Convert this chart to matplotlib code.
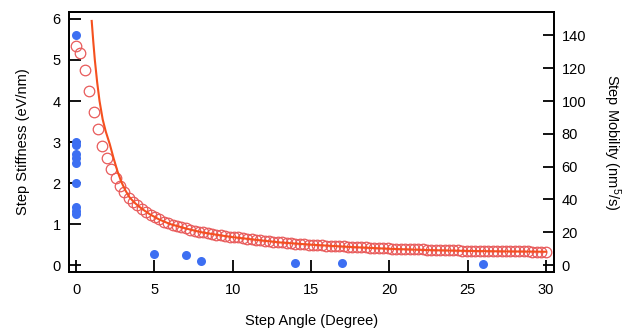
import matplotlib
matplotlib.use("Agg")
import matplotlib.pyplot as plt

plt.rcParams['font.family'] = ['Liberation Sans', 'DejaVu Sans']
plt.rcParams['mathtext.fontset'] = 'custom'
plt.rcParams['mathtext.rm'] = 'Liberation Sans'
plt.rcParams['mathtext.it'] = 'Liberation Sans'

# measured step stiffness (eV/nm)
angle_meas = [0, 0, 0, 0, 0, 0, 0, 0, 0, 0, 5, 7, 8, 14, 17, 26]
stiffness_meas = [5.62, 3.0, 2.93, 2.7, 2.6, 2.5, 2.0, 1.42, 1.33, 1.25,
                  0.28, 0.24, 0.1, 0.05, 0.04, 0.02]

# step mobility, open circles (nm^5/s)
angle_sim = [0.00, 0.28, 0.56, 0.84, 1.12, 1.40, 1.68, 1.96, 2.24, 2.52,
             2.80, 3.08, 3.36, 3.64, 3.92, 4.20, 4.48, 4.76, 5.04, 5.32,
             5.60, 5.88, 6.16, 6.44, 6.72, 7.00, 7.28, 7.56, 7.84, 8.12,
             8.40, 8.68, 8.96, 9.24, 9.52, 9.80, 10.08, 10.36, 10.64, 10.92,
             11.20, 11.48, 11.76, 12.04, 12.32, 12.60, 12.88, 13.16, 13.44, 13.72,
             14.00, 14.28, 14.56, 14.84, 15.12, 15.40, 15.68, 15.96, 16.24, 16.52,
             16.80, 17.08, 17.36, 17.64, 17.92, 18.20, 18.48, 18.76, 19.04, 19.32,
             19.60, 19.88, 20.16, 20.44, 20.72, 21.00, 21.28, 21.56, 21.84, 22.12,
             22.40, 22.68, 22.96, 23.24, 23.52, 23.80, 24.08, 24.36, 24.64, 24.92,
             25.20, 25.48, 25.76, 26.04, 26.32, 26.60, 26.88, 27.16, 27.44, 27.72,
             28.00, 28.28, 28.56, 28.84, 29.12, 29.40, 29.68, 29.96]
mobility_sim = [133.8, 129.0, 119.0, 106.3, 93.5, 82.8, 72.8, 65.0, 58.5, 53.3,
                48.3, 44.3, 40.8, 38.3, 36.3, 34.3, 32.3, 30.5, 29.0, 27.8,
                26.5, 25.5, 24.5, 23.8, 23.0, 22.3, 21.6, 21.0, 20.4, 19.9,
                19.4, 19.0, 18.5, 18.1, 17.8, 17.4, 17.0, 16.8, 16.4, 16.1,
                15.8, 15.5, 15.3, 14.8, 14.5, 14.3, 14.0, 13.8, 13.5, 13.3,
                13.1, 12.9, 12.8, 12.5, 12.4, 12.2, 12.1, 11.9, 11.8, 11.6,
                11.5, 11.4, 11.3, 11.1, 11.0, 10.9, 10.8, 10.6, 10.5, 10.4,
                10.3, 10.1, 10.0, 9.9, 9.85, 9.8, 9.7, 9.6, 9.55, 9.5,
                9.4, 9.3, 9.25, 9.2, 9.1, 9.0, 8.95, 8.9, 8.8, 8.75,
                8.7, 8.65, 8.6, 8.55, 8.5, 8.48, 8.45, 8.43, 8.4, 8.38,
                8.35, 8.33, 8.3, 8.28, 8.25, 8.23, 8.2, 8.18]

# fit line (nm^5/s)
angle_fit = [1.0, 1.1, 1.2, 1.35, 1.5, 1.7, 1.9, 2.15, 2.4, 2.65,
             2.9, 3.15, 3.4, 3.7, 4.0, 4.35, 4.7, 5.3, 6.0, 7.0,
             8.0, 9.0, 10.0, 11.0, 12.0, 13.0, 14.0, 15.0, 17.5, 20.0,
             22.5, 25.0, 27.5, 30.0]
mobility_fit = [148.8, 136.3, 125.0, 111.3, 100.0, 88.8, 81.3, 73.8, 65.0, 57.0,
                50.5, 45.5, 41.5, 38.3, 35.8, 33.3, 31.0, 27.8, 25.0, 22.3,
                20.0, 18.4, 17.0, 15.9, 14.8, 13.8, 13.1, 12.4, 11.0, 9.9,
                9.1, 8.6, 8.3, 8.1]

fig = plt.figure(figsize=(6.34, 3.31), dpi=100)
ax = fig.add_axes([0.1088, 0.1782, 0.765, 0.7855])
ax2 = ax.twinx()

ax.plot(angle_meas, stiffness_meas, 'o', color='#3d6ff2', markersize=6.5,
        markeredgewidth=0, zorder=3)
ax2.plot(angle_sim, mobility_sim, 'o', markerfacecolor='none',
         markeredgecolor='#e85a5a', markersize=7.6, markeredgewidth=0.9)
ax2.plot(angle_fit, mobility_fit, '-', color='#f5501e', linewidth=1.5)

ax.set_xlim(-0.45, 30.5)
ax.set_ylim(-0.17, 6.17)
ax2.set_ylim(-0.17 * 25, 6.17 * 25)
ax.set_xticks(range(0, 31, 5))
ax.set_yticks(range(0, 7))
ax2.set_yticks(range(0, 141, 20))

for a in (ax, ax2):
    for s in a.spines.values():
        s.set_linewidth(1.3)
ax.tick_params(axis='both', direction='in', length=8.5, width=1.3,
               labelsize=10.5, pad=6)
ax.tick_params(axis='x', pad=8)
ax2.tick_params(axis='y', direction='in', length=8, width=1.3,
                labelsize=10.5, pad=5.5)

ax.set_xlabel('Step Angle (Degree)', fontsize=10.5, labelpad=12)
ax.set_ylabel('Step Stiffness (eV/nm)', fontsize=10.5, labelpad=16)
ax2.set_ylabel('Step Mobility (nm$^{5}$/s)', fontsize=10.5, rotation=-90,
               labelpad=26)

fig.savefig('out.png', dpi=100)
